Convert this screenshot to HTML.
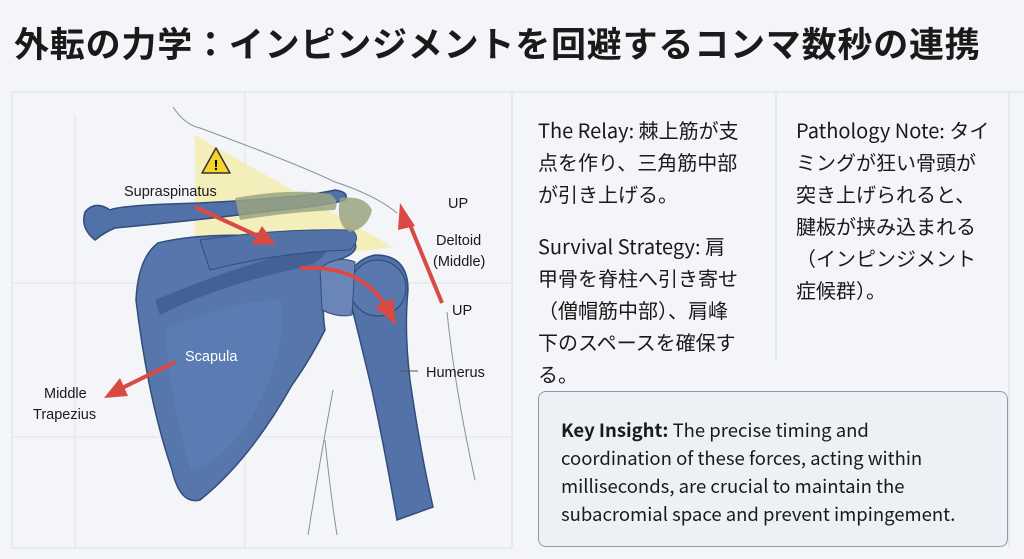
<!DOCTYPE html>
<html><head><meta charset="utf-8"><style>
html,body{margin:0;padding:0;width:1024px;height:559px;overflow:hidden;background:#f3f5f8;}
body{position:relative;font-family:"Liberation Sans","Noto Sans CJK JP",sans-serif;color:#1a1a1a;}
h1{position:absolute;left:14px;top:17px;margin:0;font-size:35px;font-weight:bold;letter-spacing:0.8px;font-family:"Noto Sans CJK JP",sans-serif;white-space:nowrap;}
.col{position:absolute;font-size:20px;line-height:32px;font-family:"Noto Sans CJK JP",sans-serif;white-space:nowrap;}
.key{position:absolute;left:538px;top:391px;width:470px;height:156px;border:1px solid #8a9ab0;border-radius:8px;background:#edf1f6;box-sizing:border-box;}
.key div{position:absolute;left:22px;top:24px;font-size:18.5px;line-height:28px;font-family:"Noto Sans CJK JP",sans-serif;white-space:nowrap;}
</style></head><body>
<h1>外転の力学：インピンジメントを回避するコンマ数秒の連携</h1>
<svg width="1024" height="559" style="position:absolute;left:0;top:0">
<line x1="12" y1="92" x2="1024" y2="92" stroke="#d8dde4"/>
<line x1="12" y1="92" x2="12" y2="548" stroke="#d8dde4"/>
<line x1="12" y1="548" x2="512" y2="548" stroke="#d8dde4"/>
<line x1="512" y1="92" x2="512" y2="548" stroke="#d8dde4"/>
<line x1="776" y1="92" x2="776" y2="360" stroke="#d8dde4"/>
<line x1="1009" y1="92" x2="1009" y2="548" stroke="#d8dde4"/>
<line x1="12" y1="283" x2="512" y2="283" stroke="#e0e4ea"/>
<line x1="12" y1="437" x2="512" y2="437" stroke="#e0e4ea"/>
<line x1="75" y1="115" x2="75" y2="548" stroke="#e0e4ea"/>
<line x1="245" y1="92" x2="245" y2="548" stroke="#e0e4ea"/>
<path d="M173,107 Q185,125 200,128 Q300,165 335,182 Q375,195 397,213" fill="none" stroke="#8a8f99" stroke-width="1"/>
<path d="M447,312 Q455,390 475,480" fill="none" stroke="#8a8f99"/>
<path d="M333,390 Q320,460 308,535 M325,440 Q330,490 337,535" fill="none" stroke="#8a8f99"/>
<polygon points="195,135 393,247 195,273" fill="#f4eca0" opacity="0.7"/>
<path d="M158,243 Q200,233 260,236 Q330,233 355,243 Q360,255 330,262 Q320,300 325,330 Q310,360 292,385 Q250,460 200,500 Q180,505 172,470 Q148,400 136,300 Q138,258 158,243 Z" fill="#5676ac" stroke="#334d7a" stroke-width="1.5"/>
<path d="M155,300 Q250,260 325,245 Q330,260 300,268 Q220,285 160,315 Z" fill="#3f5d8f" opacity="0.8"/>
<path d="M165,330 Q230,300 280,300 Q290,350 250,420 Q215,470 190,470 Q170,400 165,330Z" fill="#5f80b5" opacity="0.6"/>
<path d="M200,240 Q280,228 352,230 Q362,238 350,250 Q280,252 210,270 Z" fill="#5272a8" stroke="#334d7a"/>
<path d="M85,212 Q80,228 95,240 Q105,232 115,228 Q200,220 280,210 Q330,205 345,200 Q350,192 335,190 Q300,198 200,203 Q120,205 110,210 Q95,200 85,212 Z" fill="#5072a9" stroke="#334d7a" stroke-width="1.5"/>
<path d="M235,198 Q290,188 330,194 Q340,200 335,210 Q290,212 240,220 Z" fill="#9aa383" opacity="0.85"/>
<path d="M340,198 Q365,195 372,210 Q368,228 350,232 Q335,225 340,198Z" fill="#9aa383" opacity="0.85"/>
<path d="M350,300 Q343,262 375,255 Q408,255 408,290 Q404,330 410,380 Q420,450 433,507 L397,520 Q385,450 372,390 Q360,340 350,300Z" fill="#5272a8" stroke="#334d7a" stroke-width="1.5"/>
<circle cx="378" cy="288" r="28" fill="#5878ae" stroke="#334d7a" stroke-width="1.2"/>
<path d="M320,268 Q338,255 355,262 L352,315 Q338,318 322,310 Z" fill="#6a86b8" stroke="#334d7a"/>
<g fill="#d94a45" stroke="#d94a45">
<line x1="195" y1="207" x2="258" y2="236" stroke-width="4"/>
<polygon points="276,245 252,244 262,226" stroke="none"/>
<line x1="442" y1="303" x2="408" y2="220" stroke-width="4"/>
<polygon points="400,203 415,226 398,230" stroke="none"/>
<path d="M300,268 Q360,265 385,305" fill="none" stroke-width="4"/>
<polygon points="396,325 375,307 393,298" stroke="none"/>
<line x1="175" y1="362" x2="120" y2="389" stroke-width="4"/>
<polygon points="104,398 120,378 128,396" stroke="none"/>
</g>
<line x1="400" y1="371" x2="418" y2="371" stroke="#555"/>
<polygon points="216,148 230,173 202,173" fill="#f5d32a" stroke="#333" stroke-width="1.5" stroke-linejoin="round"/>
<text x="216" y="170" font-size="15" font-weight="bold" text-anchor="middle" font-family="Liberation Sans">!</text>
<g font-family="Liberation Sans" font-size="14.5" fill="#1a1a1a">
<text x="124" y="196">Supraspinatus</text>
<text x="448" y="208">UP</text>
<text x="436" y="245">Deltoid</text>
<text x="433" y="266">(Middle)</text>
<text x="452" y="315">UP</text>
<text x="426" y="377">Humerus</text>
<text x="185" y="361" fill="#ffffff">Scapula</text>
<text x="44" y="398">Middle</text>
<text x="33" y="419">Trapezius</text>
</g>
</svg>
<div class="col" style="left:538px;top:114px">The Relay: 棘上筋が支<br>点を作り、三角筋中部<br>が引き上げる。</div>
<div class="col" style="left:538px;top:230px">Survival Strategy: 肩<br>甲骨を脊柱へ引き寄せ<br>（僧帽筋中部）、肩峰<br>下のスペースを確保す<br>る。</div>
<div class="col" style="left:796px;top:114px">Pathology Note: タイ<br>ミングが狂い骨頭が<br>突き上げられると、<br>腱板が挟み込まれる<br>（インピンジメント<br>症候群）。</div>
<div class="key"><div><b>Key Insight:</b> The precise timing and<br>coordination of these forces, acting within<br>milliseconds, are crucial to maintain the<br>subacromial space and prevent impingement.</div></div>
</body></html>
